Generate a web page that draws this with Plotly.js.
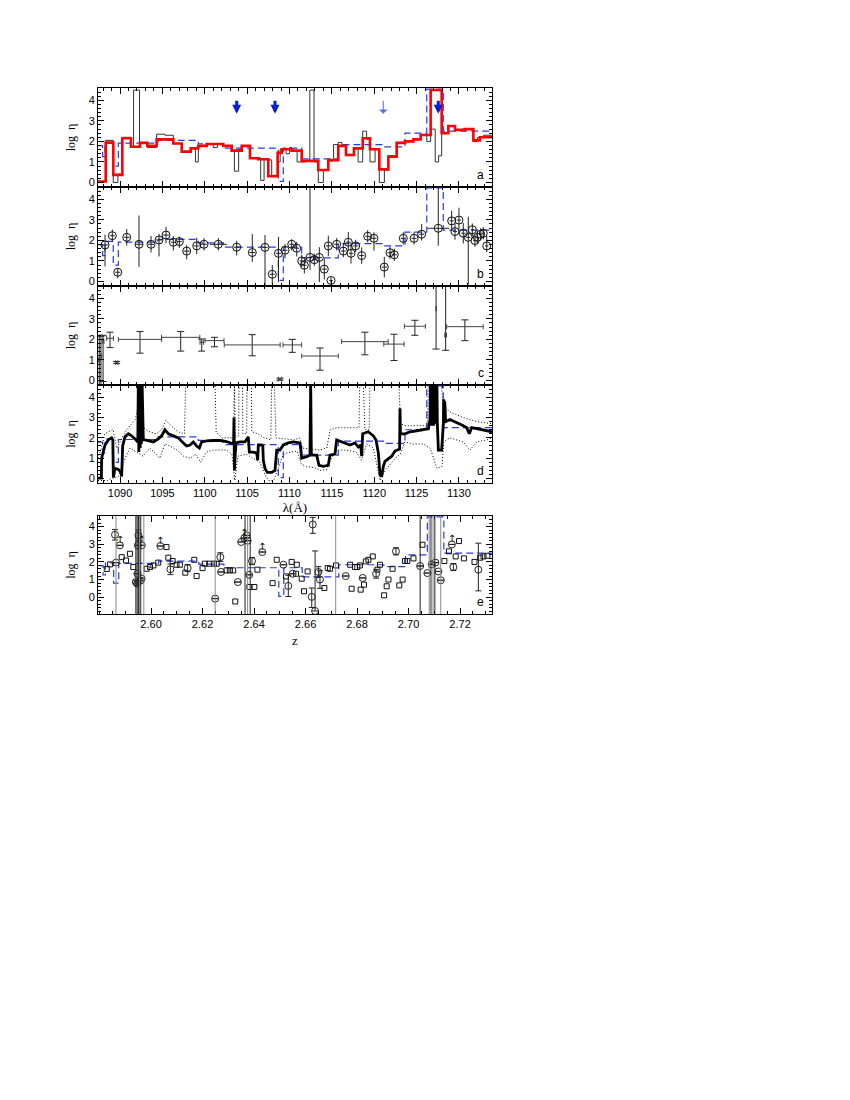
<!DOCTYPE html>
<html>
<head>
<meta charset="utf-8">
<script src="https://cdn.plot.ly/plotly-3.0.1.min.js"></script>
<style>
  body { margin: 0; background: #fff; }
  #chart { width: 850px; height: 1100px; }
</style>
</head>
<body>
<div id="chart"></div>
<script>
// ---- model step function (blue dashed, drawn in every panel) ----
const blueEdges = [1087.4, 1087.95, 1088.23, 1089.2, 1089.8, 1094.5, 1099.24, 1102.2, 1108.68, 1109.27,
                   1111.44, 1115.76, 1121.07, 1123.63, 1126.2, 1128.15, 1133.9];
const blueVals  = [1.79, 1.26, 1.95, 0.8, 1.92, 2.05, 1.88, 1.67, 0.05, 1.67, 1.15, 1.84, 1.73, 2.4, 4.55, 2.5];

// ---- panel a: binned estimate (red) and fine bins (thin black) ----
const redEdges = [1087.4, 1088.31, 1089.21, 1090.27, 1091.29, 1092.36, 1093.22, 1094.32, 1096.29, 1097.28,
                  1098.34, 1099.24, 1100.23, 1102.19, 1103.18, 1104.36, 1105.34, 1106.32, 1107.5, 1108.6,
                  1109.08, 1110.26, 1111.44, 1113.4, 1114.58, 1115.76, 1116.67, 1117.61, 1118.64, 1119.5,
                  1120.6, 1121.67, 1122.65, 1123.63, 1124.62, 1125.48, 1126.66, 1127.96, 1128.75, 1129.53,
                  1130.71, 1131.7, 1132.48, 1133.9];
const redVals = [0.05, 1.94, 0.37, 2.15, 1.74, 1.93, 1.78, 2.1, 1.9, 1.5, 1.66, 1.78, 1.87, 1.78, 1.55,
                 1.78, 1.18, 1.13, 0.3, 1.44, 1.62, 1.55, 1.05, 0.61, 1.09, 1.78, 1.34, 1.66, 2.15, 1.62,
                 0.64, 1.26, 1.93, 2.0, 2.1, 2.31, 4.5, 2.4, 2.75, 2.56, 2.6, 2.05, 2.2];

const blkEdges = [1087.4, 1088.3, 1089.2, 1089.75, 1090.27, 1091.3, 1091.6, 1092.3, 1093.22, 1094.32,
                  1095.3, 1096.29, 1097.28, 1098.34, 1098.9, 1099.24, 1100.23, 1101.0, 1101.5, 1102.19,
                  1103.18, 1103.5, 1104.0, 1104.36, 1105.34, 1106.6, 1107.0, 1107.5, 1107.9, 1108.6,
                  1108.9, 1109.6, 1110.0, 1110.26, 1110.9, 1111.9, 1112.4, 1112.9, 1113.4, 1114.0,
                  1114.58, 1115.2, 1115.76, 1116.2, 1116.67, 1117.61, 1118.1, 1118.64, 1119.1, 1119.5,
                  1120.1, 1120.6, 1121.2, 1121.67, 1122.65, 1123.63, 1124.62, 1125.48, 1126.2, 1126.66,
                  1127.2, 1127.6, 1127.96, 1128.75, 1129.53, 1130.4, 1131.7, 1132.2, 1132.9, 1133.9];
const blkVals = [0.05, 2.05, 0.0, 0.4, 2.2, 1.75, 4.5, 1.93, 1.7, 2.35,
                 2.3, 1.9, 1.5, 1.7, 1.0, 1.8, 1.85, 1.7, 1.9, 1.78,
                 1.55, 0.55, 1.6, 1.78, 1.2, 0.1, 1.15, 1.1, 0.35, 1.0,
                 1.6, 1.4, 1.7, 1.55, 1.0, 1.05, 4.5, 1.0, 0.0, 0.6,
                 1.05, 1.85, 1.95, 1.78, 1.34, 1.65, 1.0, 2.5, 2.1, 1.0,
                 1.6, 0.0, 0.6, 1.3, 1.9, 2.0, 2.1, 2.3, 2.0, 2.6,
                 1.0, 1.3, 2.4, 2.75, 2.55, 2.6, 2.0, 2.2, 2.3];

const arrowLam   = [1103.77, 1108.29, 1121.07, 1127.56];
const arrowThick = [true, true, false, true];

// ---- panel b: individual estimates ----
const bLam = [1088.23, 1089.09, 1089.73, 1090.79, 1092.24, 1093.66, 1094.6, 1095.43, 1096.29, 1097.0,
              1097.87, 1099.05, 1099.91, 1101.6, 1103.77, 1105.61, 1107.11, 1107.97, 1108.7, 1109.47,
              1110.26, 1110.85, 1111.44, 1111.75, 1112.42, 1112.93, 1113.52, 1114.11, 1114.58, 1114.9,
              1115.57, 1116.35, 1116.94, 1117.26, 1117.81, 1118.52, 1119.23, 1119.97, 1121.19, 1121.86,
              1122.37, 1123.43, 1124.7, 1125.6, 1127.56, 1129.14, 1129.53, 1130.0, 1130.51, 1131.1,
              1131.58, 1131.89, 1132.17, 1132.57, 1132.87, 1133.28];
const bEta = [1.78, 2.23, 0.45, 2.15, 1.81, 1.81, 2.02, 2.26, 1.91, 1.94,
              1.48, 1.73, 1.81, 1.81, 1.67, 1.41, 1.66, 0.35, 1.37, 1.52,
              1.81, 1.62, 1.0, 0.79, 1.17, 1.06, 1.17, 0.6, 1.73, 0.05,
              1.81, 1.48, 1.91, 1.37, 1.73, 1.26, 2.2, 2.1, 0.7, 1.4,
              1.3, 2.1, 2.1, 2.3, 2.59, 2.95, 2.43, 2.99, 2.35, 2.15,
              2.52, 1.99, 2.15, 2.3, 2.35, 1.73];
const bUp = [0.5, 0.3, 0.2, 0.4, 1.4, 0.4, 0.3, 0.4, 0.3, 0.25,
             0.3, 0.4, 0.3, 0.3, 0.3, 0.9, 0.6, 0.45, 0.8, 0.3,
             0.25, 0.3, 0.3, 0.3, 3.4, 0.3, 0.5, 0.5, 0.5, 0.15,
             0.3, 0.4, 0.5, 0.5, 0.3, 0.4, 0.3, 0.3, 0.5, 0.3,
             0.3, 0.3, 0.3, 0.5, 2.0, 0.5, 0.4, 0.6, 0.5, 1.0,
             0.3, 0.3, 0.3, 0.3, 0.3, 0.5];
const bDn = [1.05, 0.3, 0.3, 0.4, 1.1, 0.4, 0.8, 0.4, 0.4, 0.3,
             0.4, 0.4, 0.3, 0.3, 0.4, 0.45, 1.9, 0.5, 1.4, 0.4,
             0.3, 0.4, 0.3, 0.4, 0.6, 0.3, 1.2, 0.5, 0.5, 0.15,
             0.3, 0.3, 0.4, 0.5, 0.3, 0.4, 0.3, 0.6, 0.5, 0.3,
             0.3, 0.3, 0.3, 0.3, 0.85, 0.5, 0.4, 0.6, 0.5, 2.3,
             0.3, 0.3, 0.3, 0.3, 0.3, 0.3];
const bLamErr = [0.35, 0.3, 0.3, 0.35, 0.45, 0.35, 0.35, 0.35, 0.3, 0.3,
                 0.35, 0.35, 0.35, 1.0, 0.35, 0.35, 0.3, 0.3, 0.3, 0.3,
                 0.3, 0.3, 0.25, 0.25, 0.3, 0.25, 0.3, 0.3, 0.3, 0.2,
                 0.3, 0.3, 0.3, 0.25, 0.3, 0.3, 0.3, 0.3, 0.3, 0.3,
                 0.3, 0.3, 0.3, 0.3, 1.3, 0.25, 0.25, 0.25, 0.25, 0.25,
                 0.2, 0.2, 0.2, 0.2, 0.2, 0.2];

// ---- panel c: wide-bin estimates ----
const cLam = [1087.55, 1087.75, 1088.0, 1088.82, 1089.6, 1092.36, 1097.16, 1099.64, 1101.15, 1105.6,
              1108.88, 1110.33, 1113.6, 1118.9, 1122.33, 1124.8, 1127.3, 1128.43, 1130.7];
const cEta = [1.0, 1.2, 1.9, 2.05, 0.87, 2.0, 2.1, 1.86, 1.94, 1.73,
              0.06, 1.73, 1.19, 1.89, 1.77, 2.64, 3.5, 2.21, 2.62];
const cUp  = [1.2, 0.95, 0.3, 0.3, 0.05, 0.38, 0.28, 0.16, 0.16, 0.5,
              0.05, 0.27, 0.39, 0.46, 0.48, 0.29, 1.5, 2.5, 0.33];
const cDn  = [1.3, 1.4, 1.95, 0.45, 0.05, 0.67, 0.67, 0.43, 0.3, 0.53,
              0.05, 0.36, 0.69, 0.64, 0.8, 0.44, 1.97, 0.74, 0.68];
const cLamErr = [0.1, 0.1, 0.1, 0.4, 0.15, 2.55, 2.26, 0.2, 1.12, 3.3,
                 0.2, 1.1, 2.16, 2.75, 1.2, 1.24, 0.0, 0.1, 2.16];

// ---- panel d: smooth estimate (thick) with bounds (dotted) ----
const dLam = [1087.4, 1087.8, 1087.83, 1088.23, 1088.62, 1089.01, 1089.15, 1089.21, 1089.41, 1089.8,
              1090.1, 1090.19, 1090.31, 1090.59, 1090.98, 1091.37, 1091.77, 1092.04, 1092.1, 1092.16,
              1092.22, 1092.3, 1092.38, 1092.45, 1092.52, 1092.6, 1092.68, 1092.75, 1092.95, 1093.54,
              1093.93, 1094.52, 1094.9, 1095.3, 1095.7, 1096.29, 1096.88, 1097.47, 1097.86, 1098.26,
              1098.65, 1099.04, 1099.36, 1099.63, 1100.22, 1101.01, 1101.8, 1102.58, 1103.17, 1103.4,
              1103.45, 1103.5, 1103.6, 1103.69, 1104.16, 1104.75, 1105.14, 1105.26, 1105.73, 1106.13,
              1106.25, 1106.32, 1106.72, 1106.85, 1106.91, 1107.11, 1107.38, 1107.9, 1108.29, 1108.49,
              1108.88, 1109.08, 1109.27, 1109.86, 1110.45, 1111.24, 1111.44, 1112.03, 1112.42, 1112.5,
              1112.58, 1113.21, 1113.48, 1113.99, 1114.58, 1114.78, 1115.37, 1115.57, 1116.16, 1116.55,
              1117.14, 1117.73, 1118.12, 1118.4, 1118.52, 1118.64, 1119.3, 1119.9, 1120.21, 1120.49,
              1120.68, 1120.88, 1121.08, 1121.27, 1121.67, 1122.06, 1122.45, 1122.85, 1123.0, 1123.04,
              1123.1, 1123.63, 1124.22, 1125.01, 1125.8, 1126.39, 1126.58, 1126.65, 1126.72, 1126.8,
              1126.88, 1126.95, 1127.02, 1127.1, 1127.18, 1127.25, 1127.32, 1127.4, 1127.45, 1127.57,
              1127.96, 1128.16, 1128.2, 1128.26, 1128.32, 1128.43, 1128.94, 1129.53, 1129.93, 1130.52,
              1130.91, 1131.22, 1131.5, 1132.09, 1132.68, 1133.27, 1133.9];
const dEta = [0.02, 0.02, 1.0, 1.65, 1.9, 2.0, 1.9, 0.05, 0.5, 0.45,
              0.3, 0.1, 1.6, 2.05, 2.2, 2.1, 1.95, 1.8, 1.8, 4.8,
              1.3, 4.8, 1.5, 4.8, 1.7, 4.8, 1.9, 1.9, 1.9, 1.85,
              1.8, 1.95, 2.1, 2.4, 2.2, 2.1, 2.0, 1.75, 1.6, 1.65,
              1.8, 1.6, 1.5, 1.8, 1.85, 1.87, 1.87, 1.82, 1.76, 1.7,
              3.0, 0.4, 1.2, 1.75, 1.8, 1.8, 2.05, 1.3, 1.3, 1.25,
              0.9, 1.65, 1.65, 1.6, 0.9, 0.5, 0.3, 0.3, 0.4, 1.4,
              1.4, 1.5, 1.65, 1.75, 1.8, 1.75, 1.0, 1.07, 1.15, 4.8,
              1.15, 1.15, 0.65, 0.6, 0.65, 1.15, 1.2, 1.9, 1.8, 1.75,
              1.65, 1.75, 1.55, 1.65, 1.1, 2.2, 2.3, 2.1, 1.9, 1.25,
              0.2, 0.1, 0.6, 0.85, 1.0, 1.1, 1.35, 1.4, 1.45, 3.45,
              2.2, 2.2, 2.3, 2.35, 2.4, 2.45, 2.9, 4.8, 2.6, 4.8,
              2.6, 4.8, 2.6, 4.8, 2.7, 4.8, 2.7, 4.8, 2.7, 1.4,
              1.4, 2.7, 3.9, 2.8, 3.8, 2.8, 2.9, 2.8, 2.7, 2.6,
              2.5, 2.2, 2.5, 2.45, 2.4, 2.35, 2.3];

const dHiLam = [1087.4, 1087.8, 1088.2, 1088.6, 1089.2, 1089.6, 1090.0, 1090.6, 1091.2, 1091.8,
                1092.1, 1092.3, 1092.8, 1093.5, 1094.3, 1094.9, 1095.4, 1096.0, 1096.8, 1097.6,
                1097.75, 1101.2, 1101.35, 1102.0, 1103.1, 1103.4, 1103.5, 1103.6, 1104.0, 1104.05,
                1104.45, 1104.5, 1104.95, 1105.0, 1105.5, 1105.55, 1106.3, 1107.0, 1107.8, 1107.9,
                1108.2, 1108.4, 1109.5, 1110.5, 1111.2, 1111.5, 1112.5, 1113.5, 1114.4, 1114.8,
                1115.6, 1116.5, 1117.7, 1118.2, 1118.3, 1118.7, 1118.9, 1119.4, 1119.5, 1122.9,
                1123.1, 1123.6, 1124.8, 1126.3, 1126.4, 1127.9, 1128.1, 1128.8, 1130.5, 1132.1, 1133.9];
const dHi = [1.0, 1.5, 2.2, 2.3, 2.4, 1.5, 1.8, 2.3, 2.6, 2.9,
             3.5, 4.8, 2.5, 2.3, 2.2, 2.4, 2.85, 2.6, 2.3, 2.2,
             4.8, 4.8, 2.3, 2.0, 2.0, 2.0, 4.8, 2.0, 2.1, 4.8,
             4.8, 2.2, 2.2, 4.8, 4.8, 2.3, 2.2, 2.0, 1.9, 4.8,
             4.8, 2.0, 1.95, 1.9, 2.0, 1.5, 1.45, 1.4, 1.5, 2.4,
             2.5, 2.5, 2.5, 2.5, 4.8, 4.8, 2.4, 2.4, 4.8, 4.8,
             2.7, 2.6, 2.6, 2.6, 4.8, 4.8, 3.7, 3.3, 3.0, 2.8, 2.7];

const dLoLam = [1087.4, 1088.5, 1089.0, 1089.8, 1090.2, 1090.6, 1091.2, 1091.9, 1092.7, 1093.5,
                1094.3, 1094.7, 1095.3, 1095.9, 1096.7, 1097.5, 1098.3, 1098.9, 1099.5, 1100.2,
                1101.0, 1102.6, 1103.2, 1103.55, 1103.9, 1104.9, 1105.7, 1106.5, 1107.1, 1107.5,
                1108.1, 1108.7, 1109.0, 1109.3, 1110.1, 1110.9, 1111.4, 1112.0, 1113.2, 1113.6,
                1114.4, 1114.8, 1115.6, 1116.7, 1117.9, 1118.5, 1119.1, 1119.9, 1120.7, 1121.3,
                1121.9, 1122.5, 1123.1, 1123.6, 1124.6, 1125.8, 1126.6, 1127.4, 1128.0, 1128.2,
                1128.9, 1129.7, 1130.5, 1131.3, 1132.1, 1133.3, 1133.9];
const dLo = [-0.1, -0.1, 0.0, 0.1, 0.5, 1.0, 1.5, 1.3, 1.1, 1.5,
             1.2, 1.0, 1.7, 1.6, 1.4, 1.1, 1.0, 1.2, 0.8, 1.3,
             1.4, 1.4, 1.2, -0.1, 1.1, 1.2, 1.0, 0.8, 0.2, -0.1,
             -0.1, 0.5, 0.9, 1.2, 1.3, 1.35, 0.7, 0.6, 0.5, 0.4,
             0.45, 0.9, 1.4, 1.4, 1.3, 0.9, 1.7, 1.5, -0.1, 0.4,
             0.7, 1.0, 1.2, 1.8, 1.7, 1.7, 1.5, 0.5, 0.6, 1.8,
             2.0, 1.9, 1.8, 1.4, 1.8, 1.9, 2.0];

// ---- panel e: individual points versus redshift ----
const HEII = 303.78;   // rest wavelength used for the z axis
const zTicks = [2.60, 2.62, 2.64, 2.66, 2.68, 2.70, 2.72];
const eCircZ = [2.5860, 2.5864, 2.5879, 2.5941, 2.5946, 2.5947, 2.5949, 2.5951, 2.5960, 2.5963,
                2.5964, 2.6036, 2.6075, 2.6142, 2.6249, 2.6269, 2.6272, 2.6337, 2.6350, 2.6362,
                2.6371, 2.6375, 2.6381, 2.6392, 2.6432, 2.6514, 2.6533, 2.6550, 2.6624, 2.6628,
                2.6637, 2.6650, 2.6656, 2.6756, 2.6822, 2.6874, 2.6951, 2.7045, 2.7073, 2.7090,
                2.7104, 2.7116, 2.7125, 2.7168, 2.7174, 2.7271];
const eCircEta = [3.54, 1.96, 2.94, 0.86, 0.77, 1.33, 2.94, 3.50, 0.95, 1.05,
                  2.94, 2.9, 1.58, 1.65, -0.08, 2.27, 1.43, 0.86, 3.13, 3.35,
                  3.50, 3.20, 1.27, 2.05, 2.56, 1.84, 0.64, 1.33, 0.02, 4.12,
                  -0.78, 1.43, 1.0, 1.2, 1.09, 1.33, 2.6, 1.77, 1.37, 1.86,
                  1.96, 1.46, 0.96, 2.99, 1.71, 1.56];
const eCircUp = [0.3, 0, 0, 0.1, 0.1, 0, 0, 0.3, 0, 0,
                 0, 0, 0.3, 0.2, 0, 0.25, 0, 0, 0, 0,
                 0, 0, 0, 0.2, 0, 0, 0.6, 0, 0.5, 0.4,
                 3.4, 0.3, 0.5, 0, 0, 0.25, 0.2, 0, 0, 0,
                 0, 0, 0, 0, 0.2, 1.5];
const eCircDn = [0.3, 0, 0, 0.1, 0.1, 0, 0, 0.3, 0, 0,
                 0, 0, 0.3, 0.2, 0, 0.25, 0, 0, 0, 0,
                 0, 0, 0, 0.2, 0, 0, 0.6, 0, 0.6, 0.5,
                 0, 0.3, 0.5, 0, 0, 0.25, 0.2, 0, 0, 0,
                 0, 0, 0, 0, 0.2, 1.2];
const eLimitZ   = [2.5879, 2.5964, 2.6036, 2.6362, 2.6432, 2.7168];
const eLimitEta = [2.94, 2.94, 2.9, 3.35, 2.56, 2.99];

const eSqZ = [2.5828, 2.5841, 2.5886, 2.5903, 2.5918, 2.5931, 2.5983, 2.5996, 2.6009, 2.6028,
              2.6060, 2.6067, 2.6084, 2.6099, 2.6112, 2.6133, 2.6168, 2.6177, 2.6200, 2.6209,
              2.6226, 2.6244, 2.6255, 2.6293, 2.6306, 2.6319, 2.6327, 2.6382, 2.6401, 2.6413,
              2.6472, 2.6488, 2.6524, 2.6546, 2.6563, 2.6566, 2.6585, 2.6594, 2.6608, 2.6673,
              2.6686, 2.6695, 2.6718, 2.6773, 2.6779, 2.6792, 2.6801, 2.6811, 2.6814, 2.6827,
              2.6834, 2.6844, 2.6861, 2.6879, 2.6889, 2.6905, 2.6915, 2.6922, 2.6938, 2.6964,
              2.6977, 2.6986, 2.6995, 2.7019, 2.7054, 2.7139, 2.7157, 2.7183, 2.7196, 2.7215,
              2.7256, 2.7278, 2.7291, 2.7306];
const eSqEta = [1.60, 1.86, 2.27, 2.08, 2.46, 1.71, 1.61, 1.71, 1.80, 1.96,
                2.84, 2.24, 2.05, 1.84, 1.84, 1.39, 2.12, 1.20, 1.65, 1.90,
                1.90, 1.90, 1.90, 1.52, 1.52, 1.52, -0.24, 0.58, 0.58, 1.56,
                0.80, 2.12, 1.18, 2.00, 1.33, 1.84, 1.05, 0.34, 1.46, 0.52,
                1.65, 1.61, 1.80, 1.84, 0.48, 1.71, 1.71, 1.80, 0.43, 0.71,
                2.03, 2.12, 2.31, 1.56, 1.84, 0.11, 0.62, 1.00, 1.61, 0.67,
                1.00, 2.05, 2.05, 2.20, 2.97, 2.05, 2.60, 2.31, 3.18, 2.20,
                2.00, 2.24, 2.31, 2.35];

// lines of sight crossing the whole of panel e
const eVlineZ   = [2.5864, 2.5941, 2.5946, 2.5951, 2.5955, 2.5960, 2.5972, 2.6249, 2.6365, 2.6375,
                   2.6385, 2.6717, 2.7045, 2.7080, 2.7087, 2.7095, 2.7102, 2.7125];
const eVlineDark = [false, true, true, true, false, true, false, false, true, false,
                    true, false, true, false, true, false, true, false];

// ---- build traces ----
function stepTrace(edges, vals, xa, ya, line) {
  return {
    x: edges, y: vals.concat([vals[vals.length - 1]]),
    xaxis: xa, yaxis: ya, mode: 'lines', hoverinfo: 'skip', showlegend: false,
    line: Object.assign({ shape: 'hv' }, line)
  };
}

const blueLine = { color: '#2a3be6', width: 1.2, dash: '7px,4px' };
const dotLine = { color: '#000', width: 1, dash: '1px,2px' };
const blueEdgesZ = blueEdges.map(l => l / HEII - 1);

const traces = [
  // panel a
  stepTrace(blkEdges, blkVals, 'x', 'y', { color: '#333', width: 1 }),
  stepTrace(blueEdges, blueVals, 'x', 'y', blueLine),
  stepTrace(redEdges, redVals, 'x', 'y', { color: '#ff0000', width: 2.6 }),

  // panel b
  stepTrace(blueEdges, blueVals, 'x2', 'y2', blueLine),
  {
    x: bLam, y: bEta, xaxis: 'x2', yaxis: 'y2', mode: 'markers', showlegend: false,
    marker: { symbol: 'circle-open', size: 8, color: '#111', line: { width: 1 } },
    error_y: { type: 'data', symmetric: false, array: bUp, arrayminus: bDn, color: '#222', thickness: 1, width: 0 },
    error_x: { type: 'data', array: bLamErr, color: '#222', thickness: 1, width: 0 }
  },

  // panel c
  {
    x: cLam, y: cEta, xaxis: 'x3', yaxis: 'y3', mode: 'markers', showlegend: false,
    marker: { size: 2, color: 'rgba(0,0,0,0)' },
    error_y: { type: 'data', symmetric: false, array: cUp, arrayminus: cDn, color: '#222', thickness: 1, width: 3.5 },
    error_x: { type: 'data', array: cLamErr, color: '#444', thickness: 1, width: 2.5 }
  },

  // panel d
  stepTrace(blueEdges, blueVals, 'x4', 'y4', blueLine),
  { x: dHiLam, y: dHi, xaxis: 'x4', yaxis: 'y4', mode: 'lines', showlegend: false, line: dotLine },
  { x: dLoLam, y: dLo, xaxis: 'x4', yaxis: 'y4', mode: 'lines', showlegend: false, line: dotLine },
  { x: dLam, y: dEta, xaxis: 'x4', yaxis: 'y4', mode: 'lines', showlegend: false,
    line: { color: '#000', width: 2.8 } },

  // panel e
  stepTrace(blueEdgesZ, blueVals, 'x5', 'y5', blueLine),
  {
    x: eSqZ, y: eSqEta, xaxis: 'x5', yaxis: 'y5', mode: 'markers', showlegend: false,
    marker: { symbol: 'square-open', size: 5, color: '#111', line: { width: 1 } },
    error_y: { type: 'data', value: 0.12, color: '#111', thickness: 1, width: 2.5 }
  },
  {
    x: eCircZ, y: eCircEta, xaxis: 'x5', yaxis: 'y5', mode: 'markers', showlegend: false,
    marker: { symbol: 'circle-open', size: 7, color: '#222', line: { width: 1 } },
    error_y: { type: 'data', symmetric: false, array: eCircUp, arrayminus: eCircDn, color: '#222', thickness: 1, width: 3 }
  },
  {
    x: eLimitZ, y: eLimitEta, xaxis: 'x5', yaxis: 'y5', mode: 'text', showlegend: false,
    text: eLimitZ.map(() => '↑'), textposition: 'top center',
    textfont: { family: 'DejaVu Sans', size: 10, color: '#111' }
  }
];

// ---- axes ----
const tickFont = { family: 'Liberation Sans, Arial, sans-serif', size: 11, color: '#000' };
const serif = { family: 'Liberation Serif, Times New Roman, serif', size: 13, color: '#000' };

function frameAxis(extra) {
  return Object.assign({
    showline: true, linecolor: '#000', linewidth: 1, mirror: 'allticks',
    ticks: 'inside', ticklen: 6, tickwidth: 1, tickcolor: '#000',
    showgrid: false, zeroline: false, tickfont: tickFont, fixedrange: true
  }, extra);
}

function lamAxis(anchor, labels) {
  return frameAxis({
    anchor: anchor, range: [1087.4, 1133.9], dtick: 5, tick0: 1090,
    showticklabels: labels,
    minor: { ticks: 'inside', dtick: 1, tick0: 1090, ticklen: 3, tickcolor: '#000' },
    title: labels ? { text: 'λ(Å)', font: serif, standoff: 4 } : undefined
  });
}

function etaAxis(anchor, domain, range) {
  return frameAxis({
    anchor: anchor, domain: domain, range: range, tickvals: [0, 1, 2, 3, 4],
    minor: { ticks: 'inside', tickmode: 'linear', dtick: 0.2, tick0: 0, ticklen: 3, tickcolor: '#000' },
    title: { text: 'log  η', font: { family: serif.family, size: 12, color: '#000' }, standoff: 10 }
  });
}

const etaRange = [-0.22, 4.6];

const panelLetters = ['a', 'b', 'c', 'd', 'e'].map((t, i) => ({
  text: t, xref: (i ? 'x' + (i + 1) : 'x') + ' domain', yref: (i ? 'y' + (i + 1) : 'y') + ' domain',
  x: 0.985, y: 0.03, xanchor: 'right', yanchor: 'bottom', showarrow: false,
  font: { family: 'Liberation Sans, Arial, sans-serif', size: 12, color: '#000' }
}));

const downArrows = arrowLam.map((l, i) => ({
  x: l, y: 3.35, ax: l, ay: 4.05, xref: 'x', yref: 'y', axref: 'x', ayref: 'y',
  text: '', showarrow: true, arrowhead: arrowThick[i] ? 2 : 1,
  arrowsize: arrowThick[i] ? 0.6 : 1.4,
  arrowwidth: arrowThick[i] ? 3 : 1,
  arrowcolor: arrowThick[i] ? '#0a1fcc' : '#5a6cf0'
}));

const vlineShapes = eVlineZ.map((z, i) => ({
  type: 'line', xref: 'x5', yref: 'y5 domain', x0: z, x1: z, y0: 0, y1: 1,
  line: { color: eVlineDark[i] ? '#222' : '#888', width: 1 }
}));

const layout = {
  width: 850, height: 1100,
  paper_bgcolor: '#fff', plot_bgcolor: '#fff',
  margin: { l: 98, r: 358, t: 88, b: 486 },
  showlegend: false,
  xaxis: lamAxis('y', false),
  xaxis2: lamAxis('y2', false),
  xaxis3: lamAxis('y3', false),
  xaxis4: lamAxis('y4', true),
  xaxis5: frameAxis({
    anchor: 'y5', range: [2.5794, 2.7324], tickmode: 'array', tickvals: zTicks,
    ticktext: zTicks.map(v => v.toFixed(2)),
    minor: { ticks: 'inside', tickmode: 'linear', dtick: 0.005, tick0: 2.6, ticklen: 3, tickcolor: '#000' },
    title: { text: 'z', font: serif, standoff: 6 }
  }),
  yaxis: etaAxis('x', [0.8118, 1.0], etaRange),
  yaxis2: etaAxis('x2', [0.6236, 0.8118], etaRange),
  yaxis3: etaAxis('x3', [0.4354, 0.6236], etaRange),
  yaxis4: etaAxis('x4', [0.2490, 0.4354], etaRange),
  yaxis5: etaAxis('x5', [0.0, 0.1863], [-0.95, 4.6]),
  annotations: panelLetters.concat(downArrows),
  shapes: vlineShapes
};

Plotly.newPlot('chart', traces, layout, { staticPlot: true });
</script>
</body>
</html>
